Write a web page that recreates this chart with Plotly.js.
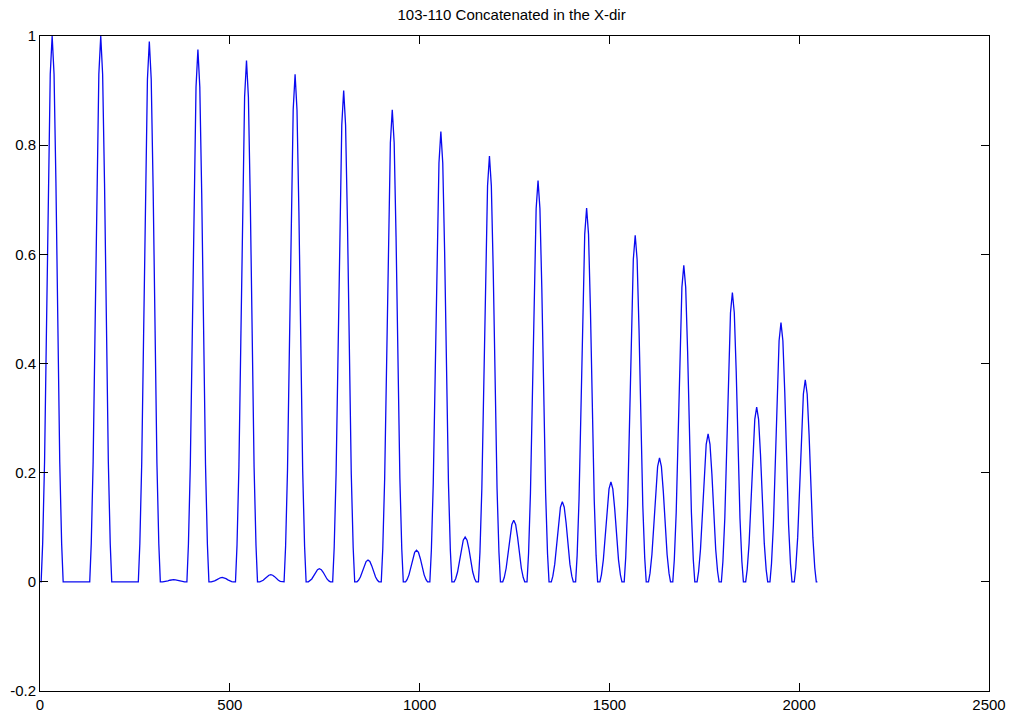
<!DOCTYPE html>
<html>
<head>
<meta charset="utf-8">
<script src="https://cdn.plot.ly/plotly-3.0.1.min.js"></script>
<style>
  html, body { margin: 0; padding: 0; background: #ffffff; }
  #chart { width: 1009px; height: 715px; }
</style>
</head>
<body>
<div id="chart"></div>
<script>
// Large peaks (first beam in each 128-sample block): position and height
const bigPeakX = [32, 160, 288, 416, 544, 672, 800, 928, 1056, 1184, 1312, 1440, 1568, 1696, 1824, 1952];
const bigPeakY = [1.0, 1.0, 0.99, 0.975, 0.955, 0.93, 0.9, 0.865, 0.825, 0.78, 0.735, 0.685, 0.635, 0.58, 0.53, 0.475];

// Small peaks (second beam in each block)
const smallPeakX = [96, 224, 352, 480, 608, 736, 864, 992, 1120, 1248, 1376, 1504, 1632, 1760, 1888, 2016];
const smallPeakY = [0.0, 0.001, 0.004, 0.008, 0.013, 0.024, 0.04, 0.058, 0.082, 0.113, 0.147, 0.183, 0.227, 0.271, 0.32, 0.37];

// Peak profile: offset from centre (samples) and fraction of peak height
const profileOffset = [-29, -25, -20, -15, -10, -5, 0, 5, 10, 15, 20, 25, 29];
const profileShape  = [0, 0.07, 0.22, 0.46, 0.73, 0.93, 1, 0.93, 0.73, 0.46, 0.22, 0.07, 0];

// Sample range
const sampleStart = 1;
const sampleEnd = 2048;

// Tick labels
const xTickVals = [0, 500, 1000, 1500, 2000, 2500];
const xTickText = ['0', '500', '1000', '1500', '2000', '2500'];
const yTickVals = [-0.2, 0, 0.2, 0.4, 0.6, 0.8, 1];
const yTickText = ['-0.2', '0', '0.2', '0.4', '0.6', '0.8', '1'];

const titleText = '103-110 Concatenated in the X-dir';

// Build the line vertices
const peaks = [];
bigPeakX.forEach((c, i) => peaks.push([c, bigPeakY[i]]));
smallPeakX.forEach((c, i) => peaks.push([c, smallPeakY[i]]));
peaks.sort((a, b) => a[0] - b[0]);

const xs = [sampleStart];
const ys = [0];
peaks.forEach(([c, h]) => {
  profileOffset.forEach((o, j) => {
    const x = c + o;
    if (x > sampleStart && x < sampleEnd) {
      xs.push(x);
      ys.push(h * profileShape[j]);
    }
  });
});
xs.push(sampleEnd);
ys.push(0);

const trace = {
  x: xs,
  y: ys,
  type: 'scatter',
  mode: 'lines',
  line: { color: '#0a0af0', width: 1.3 },
  hoverinfo: 'skip'
};

const axisCommon = {
  showgrid: false,
  zeroline: false,
  showline: true,
  linecolor: '#000000',
  linewidth: 1,
  mirror: 'ticks',
  ticks: 'inside',
  ticklen: 8,
  tickwidth: 1,
  tickcolor: '#000000',
  tickfont: { family: 'Liberation Sans, Arial, sans-serif', size: 15, color: '#000000' },
  tickmode: 'array'
};

const layout = {
  width: 1009,
  height: 715,
  margin: { l: 40, r: 20, t: 36, b: 24 },
  paper_bgcolor: '#ffffff',
  plot_bgcolor: '#ffffff',
  showlegend: false,
  title: {
    text: titleText,
    font: { family: 'Liberation Sans, Arial, sans-serif', size: 15, color: '#000000' },
    x: 0.507,
    xanchor: 'center',
    y: 0.979,
    yanchor: 'middle'
  },
  xaxis: Object.assign({}, axisCommon, {
    range: [0, 2500],
    tickvals: xTickVals,
    ticktext: xTickText
  }),
  yaxis: Object.assign({}, axisCommon, {
    range: [-0.2, 1],
    tickvals: yTickVals,
    ticktext: yTickText
  })
};

Plotly.newPlot('chart', [trace], layout, { displayModeBar: false, staticPlot: true });
</script>
</body>
</html>
